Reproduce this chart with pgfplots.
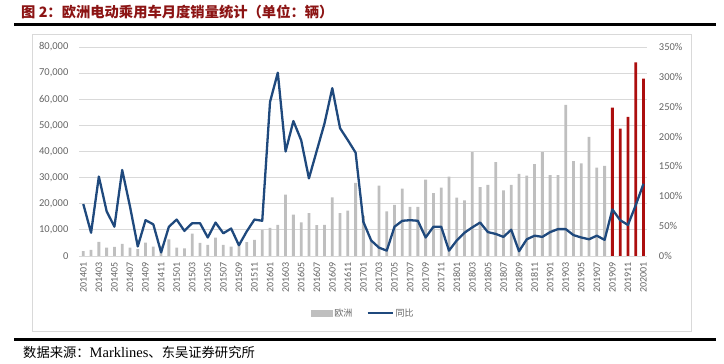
\documentclass[border=0pt]{standalone}
\usepackage{pgfplots}
\pgfplotsset{compat=1.18}
\usepackage{pgfplotstable}
\usepackage{fontspec}
\setmainfont{Carlito}
\newfontfamily\cjk{Noto Sans CJK SC}
\newfontfamily\serif{Liberation Serif}
\definecolor{barg}{RGB}{191,191,191}
\definecolor{barr}{RGB}{172,14,14}
\definecolor{linec}{RGB}{31,73,125}
\definecolor{gridc}{RGB}{217,217,217}
\definecolor{tickc}{RGB}{100,100,100}
\definecolor{titlec}{RGB}{140,20,20}

% index, sales (vehicles)
\pgfplotstableread{
i v
0 1900
1 2300
2 5400
3 3200
4 3500
5 4600
6 3200
7 2600
8 5100
9 3600
10 3900
11 6400
12 3200
13 2900
14 8600
15 5000
16 4300
17 7000
18 4300
19 3600
20 4800
21 5300
22 6200
23 10000
24 10800
25 11900
26 23500
27 15800
28 12900
29 16400
30 11800
31 11900
32 22400
33 16400
34 17400
35 28000
36 15400
37 6000
38 26900
39 17100
40 19600
41 25800
42 18800
43 18800
44 29200
45 24100
46 26200
47 30400
48 22300
49 21300
50 39800
51 26400
52 27200
53 35900
54 25100
55 27200
56 31400
57 30800
58 35200
59 39800
60 31000
61 31000
62 57800
63 36300
64 35500
65 45600
66 33800
67 34500
}\greydata
\pgfplotstableread{
i v
68 56800
69 48800
70 53300
71 74100
72 67900
}\reddata
\pgfplotstableread{
i y
0 87
1 39
2 133
3 75
4 49
5 144
6 83
7 16
8 60
9 53
10 6
11 49
12 61
13 42
14 55
15 55
16 31
17 56
18 38
19 46
20 18
21 41
22 61
23 59
24 258
25 307
26 175
27 226
28 194
29 130
30 176
31 222
32 281
33 214
34 194
35 173
36 57
37 26
38 14
39 9
40 49
41 59
42 60
43 59
44 31
45 49
46 49
47 9
48 26
49 39
50 48
51 56
52 40
53 37
54 32
55 44
56 8
57 28
58 34
59 32
60 40
61 45
62 45
63 35
64 31
65 28
66 34
67 27
68 78
69 60
70 52
71 85
72 121
}\yoydata

\begin{document}
\begin{tikzpicture}[x=1pt,y=1pt]
\path (0,0) rectangle (724,364);
\draw[line width=3pt] (14,339) -- (716,339);
\draw[line width=3pt] (14,24) -- (716,24);
\draw[gridc, line width=0.8pt] (32,33) rectangle (691,330);
\node[anchor=west, inner sep=0pt, text=titlec, font=\cjk\bfseries\fontsize{14.3}{16}\selectfont] at (21,352) {图 2：欧洲电动乘用车月度销量统计（单位：辆）};
\node[anchor=west, inner sep=0pt, font=\cjk\fontsize{13.3}{15}\selectfont] at (23,12) {数据来源：{\serif\fontsize{14.5}{15}\selectfont Marklines}、东吴证券研究所};

\begin{axis}[
  at={(79.4pt,108pt)}, anchor=south west, scale only axis,
  width=568pt, height=209pt,
  xmin=-0.5, xmax=72.5, ymin=0, ymax=80000,
  ytick={0,10000,...,80000}, scaled y ticks=false,
  /pgf/number format/1000 sep={,},
  /pgf/number format/assume math mode=true,
  ymajorgrids, grid style={gridc, line width=0.8pt},
  axis line style={draw=none}, major tick length=0pt,
  yticklabel style={font=\fontsize{10.5}{12}\selectfont, text=tickc, xshift=-7.5pt},
  xtick={0,2,...,72},
  xticklabels={201401,201403,201405,201407,201409,201411,201501,201503,201505,201507,201509,201511,201601,201603,201605,201607,201609,201611,201701,201703,201705,201707,201709,201711,201801,201803,201805,201807,201809,201811,201901,201903,201905,201907,201909,201911,202001},
  xticklabel style={rotate=90, anchor=east, font=\fontsize{10}{12}\selectfont, text=tickc, xshift=-2.5pt},
  ybar, bar width=2.8pt,
]
\addplot[fill=barg, draw=none, bar shift=0pt] table[x=i, y=v] {\greydata};
\addplot[fill=barr, draw=none, bar shift=0pt] table[x=i, y=v] {\reddata};
\end{axis}

\begin{axis}[
  at={(79.4pt,108pt)}, anchor=south west, scale only axis,
  width=568pt, height=209pt,
  xmin=-0.5, xmax=72.5, ymin=0, ymax=350,
  ytick={0,50,...,350},
  axis x line=none, axis y line*=right,
  axis line style={draw=none}, major tick length=0pt,
  /pgf/number format/assume math mode=true,
  yticklabel={\pgfmathprintnumber{\tick}\%},
  yticklabel style={font=\fontsize{10.5}{12}\selectfont, text=tickc, xshift=8pt},
  legend columns=2,
  legend style={at={(0.5,-0.273)}, anchor=center, draw=none, fill=none,
    font=\cjk\fontsize{9}{10}\selectfont, text=tickc,
    /tikz/every even column/.append style={column sep=12pt}},
]
\addlegendimage{legend image code/.code={\fill[barg] (0pt,-3.2pt) rectangle (21pt,3.2pt);}}
\addlegendentry{欧洲}
\addplot[linec, line width=2.3pt, line join=round, no markers,
  legend image code/.code={\draw[linec, line width=2.3pt] (0pt,0pt) -- (25pt,0pt);}]
  table[x=i, y=y] {\yoydata};
\addlegendentry{同比}
\end{axis}
\end{tikzpicture}
\end{document}
